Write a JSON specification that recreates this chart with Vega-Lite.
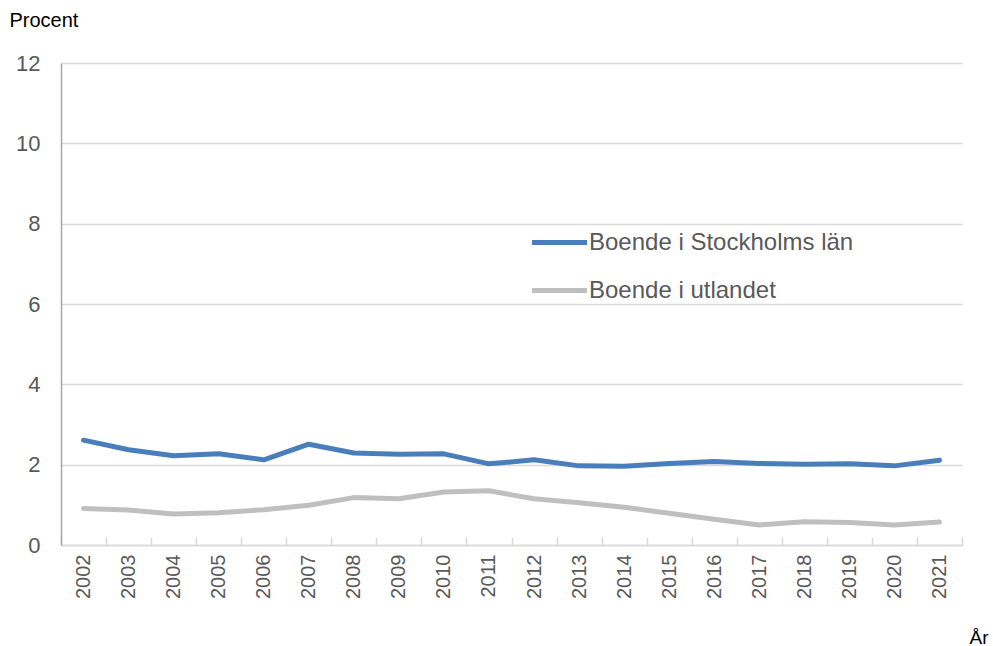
{
  "$schema": "https://vega.github.io/schema/vega-lite/v6.json",
  "width": 901,
  "height": 482,
  "autosize": "none",
  "padding": {"left": 61, "top": 63, "right": 31, "bottom": 101},
  "background": "white",
  "config": {
    "font": "Liberation Sans",
    "view": {"stroke": null}
  },
  "data": {
    "values": [
      {"year": "2002", "serie": "Boende i Stockholms län", "value": 2.61},
      {"year": "2003", "serie": "Boende i Stockholms län", "value": 2.37},
      {"year": "2004", "serie": "Boende i Stockholms län", "value": 2.22},
      {"year": "2005", "serie": "Boende i Stockholms län", "value": 2.27},
      {"year": "2006", "serie": "Boende i Stockholms län", "value": 2.12},
      {"year": "2007", "serie": "Boende i Stockholms län", "value": 2.51},
      {"year": "2008", "serie": "Boende i Stockholms län", "value": 2.29},
      {"year": "2009", "serie": "Boende i Stockholms län", "value": 2.26},
      {"year": "2010", "serie": "Boende i Stockholms län", "value": 2.27},
      {"year": "2011", "serie": "Boende i Stockholms län", "value": 2.02},
      {"year": "2012", "serie": "Boende i Stockholms län", "value": 2.12},
      {"year": "2013", "serie": "Boende i Stockholms län", "value": 1.97},
      {"year": "2014", "serie": "Boende i Stockholms län", "value": 1.96},
      {"year": "2015", "serie": "Boende i Stockholms län", "value": 2.03},
      {"year": "2016", "serie": "Boende i Stockholms län", "value": 2.08},
      {"year": "2017", "serie": "Boende i Stockholms län", "value": 2.03},
      {"year": "2018", "serie": "Boende i Stockholms län", "value": 2.01},
      {"year": "2019", "serie": "Boende i Stockholms län", "value": 2.02},
      {"year": "2020", "serie": "Boende i Stockholms län", "value": 1.97},
      {"year": "2021", "serie": "Boende i Stockholms län", "value": 2.11},
      {"year": "2002", "serie": "Boende i utlandet", "value": 0.91},
      {"year": "2003", "serie": "Boende i utlandet", "value": 0.87},
      {"year": "2004", "serie": "Boende i utlandet", "value": 0.77},
      {"year": "2005", "serie": "Boende i utlandet", "value": 0.80},
      {"year": "2006", "serie": "Boende i utlandet", "value": 0.88},
      {"year": "2007", "serie": "Boende i utlandet", "value": 0.99},
      {"year": "2008", "serie": "Boende i utlandet", "value": 1.18},
      {"year": "2009", "serie": "Boende i utlandet", "value": 1.15},
      {"year": "2010", "serie": "Boende i utlandet", "value": 1.32},
      {"year": "2011", "serie": "Boende i utlandet", "value": 1.35},
      {"year": "2012", "serie": "Boende i utlandet", "value": 1.15},
      {"year": "2013", "serie": "Boende i utlandet", "value": 1.05},
      {"year": "2014", "serie": "Boende i utlandet", "value": 0.94},
      {"year": "2015", "serie": "Boende i utlandet", "value": 0.79},
      {"year": "2016", "serie": "Boende i utlandet", "value": 0.64},
      {"year": "2017", "serie": "Boende i utlandet", "value": 0.50},
      {"year": "2018", "serie": "Boende i utlandet", "value": 0.58},
      {"year": "2019", "serie": "Boende i utlandet", "value": 0.56},
      {"year": "2020", "serie": "Boende i utlandet", "value": 0.50},
      {"year": "2021", "serie": "Boende i utlandet", "value": 0.57}
    ]
  },
  "mark": {"type": "line", "strokeWidth": 5, "strokeCap": "round", "strokeJoin": "round"},
  "encoding": {
    "x": {
      "field": "year",
      "type": "ordinal",
      "bandPosition": 0.5,
      "scale": {"type": "band", "paddingInner": 0, "paddingOuter": 0},
      "axis": {
        "title": "År",
        "titleFont": "Liberation Sans",
        "titleFontSize": 19,
        "titleFontWeight": "normal",
        "titleColor": "#000000",
        "titleAlign": "left",
        "titleBaseline": "middle",
        "titleAnchor": null,
        "titleX": 908,
        "titleY": 92,
        "labelAngle": -90,
        "labelAlign": "right",
        "labelBaseline": "middle",
        "labelFontSize": 20,
        "labelColor": "#595959",
        "labelPadding": 17,
        "tickBand": "extent",
        "tickSize": -8,
        "tickColor": "#d9d9d9",
        "tickWidth": 1.5,
        "domainColor": "#d9d9d9",
        "domainWidth": 1.5,
        "grid": false
      }
    },
    "y": {
      "field": "value",
      "type": "quantitative",
      "scale": {"domain": [0, 12]},
      "axis": {
        "values": [0, 2, 4, 6, 8, 10, 12],
        "title": "Procent",
        "titleFont": "Liberation Sans",
        "titleFontSize": 20,
        "titleFontWeight": "normal",
        "titleColor": "#000000",
        "titleAngle": 0,
        "titleAlign": "left",
        "titleBaseline": "middle",
        "titleAnchor": null,
        "titleX": -52,
        "titleY": -43,
        "labelFontSize": 22,
        "labelColor": "#595959",
        "labelPadding": 21,
        "ticks": false,
        "domainColor": "#a6a6a6",
        "domainWidth": 1.5,
        "grid": true,
        "gridColor": "#d9d9d9",
        "gridWidth": 1.5
      }
    },
    "color": {
      "field": "serie",
      "type": "nominal",
      "scale": {
        "domain": ["Boende i Stockholms län", "Boende i utlandet"],
        "range": ["#4a7ebb", "#bfbfbf"]
      },
      "legend": {
        "title": null,
        "orient": "none",
        "legendX": 486,
        "legendY": 167,
        "symbolType": "M-2.75,0H2.75",
        "symbolSize": 400,
        "symbolStrokeWidth": 5,
        "labelFontSize": 24,
        "labelColor": "#595959",
        "labelOffset": 17,
        "rowPadding": 23,
        "labelLimit": 400
      }
    }
  }
}
